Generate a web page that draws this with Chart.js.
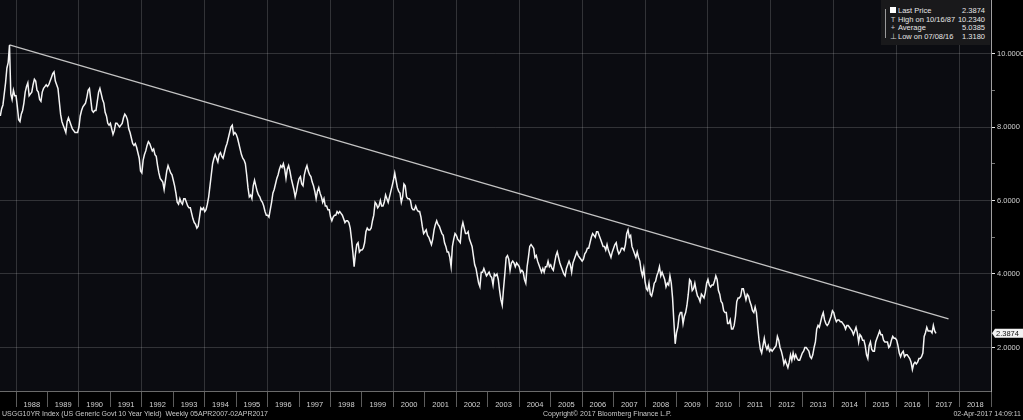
<!DOCTYPE html>
<html>
<head>
<meta charset="utf-8">
<title>USGG10YR Index</title>
<script src="https://cdn.jsdelivr.net/npm/chart.js@4.4.1/dist/chart.umd.min.js"></script>
<style>
  html, body { margin: 0; padding: 0; background: #000; }
  #wrap { position: relative; width: 1023px; height: 420px; overflow: hidden; background: #000;
          font-family: "Liberation Sans", Arial, sans-serif; }
  #chart { position: absolute; left: 0; top: 0; }
  .foot { position: absolute; top: 408px; font-size: 7px; line-height: 11px; color: #c9c9c9; white-space: nowrap; }
  #legend { position: absolute; left: 881px; top: 0; width: 109px; height: 45px; background: #19191b;
            color: #e6e6e6; font-size: 7.5px; }
  #legend .row { position: absolute; left: 0; right: 5px; height: 9px; line-height: 9px; }
  #legend .icon { position: absolute; left: 8px; width: 8px; text-align: center; color: #cfcfcf; }
  #legend .sq { display: inline-block; width: 6px; height: 6px; background: #fff; margin-top: 1px; }
  #legend .label { position: absolute; left: 17px; }
  #legend .value { position: absolute; right: 0; }
  #legend .bracket { position: absolute; left: 4px; top: 9px; width: 3px; height: 29px; border-left: 1px solid #9a9a9a; }
</style>
</head>
<body>
<div id="wrap">
  <canvas id="chart" width="1023" height="420"></canvas>
  <div id="legend"><div class="bracket"></div></div>
  <div class="foot" style="left:2px">USGG10YR Index (US Generic Govt 10 Year Yield)&nbsp; Weekly 05APR2007-02APR2017</div>
  <div class="foot" style="left:543px">Copyright© 2017 Bloomberg Finance L.P.</div>
  <div class="foot" style="right:2px">02-Apr-2017 14:09:11</div>
</div>
<script>
// semi-monthly readings (1st and 16th of each month), July 1987 -> 1 April 2017
const seriesStart = 1987.5;
const stepsPerYear = 24;
const yieldValues = [
  8.30, 8.50, 8.60, 8.90, 9.20, 9.60, 9.75, 10.23, 8.90, 8.75, 9.00, 8.85,
  8.85, 8.55, 8.20, 8.15, 8.35, 8.45, 8.65, 8.95, 9.10, 9.20, 8.85, 8.90, 8.95, 9.15, 9.30, 9.25, 9.00, 8.95, 8.75, 8.70, 8.95, 9.05, 9.10, 9.15,
  9.10, 9.15, 9.25, 9.35, 9.45, 9.50, 9.25, 9.15, 9.05, 8.70, 8.35, 8.15, 8.05, 7.95, 7.85, 8.15, 8.25, 8.15, 8.05, 7.95, 7.90, 7.85, 7.85, 7.85,
  8.00, 8.30, 8.45, 8.55, 8.60, 8.65, 8.80, 9.00, 9.05, 8.75, 8.45, 8.40, 8.45, 8.45, 8.70, 8.95, 9.05, 8.90, 8.75, 8.65, 8.40, 8.30, 8.10, 8.05,
  8.10, 7.95, 7.80, 7.90, 8.10, 8.10, 8.05, 8.00, 8.05, 8.10, 8.25, 8.35, 8.30, 8.20, 7.95, 7.85, 7.70, 7.55, 7.50, 7.55, 7.45, 7.30, 7.15, 6.80,
  6.75, 7.10, 7.25, 7.35, 7.50, 7.60, 7.55, 7.45, 7.35, 7.40, 7.25, 7.20, 6.95, 6.75, 6.60, 6.55, 6.50, 6.30, 6.55, 6.80, 6.95, 6.85, 6.75, 6.70,
  6.55, 6.40, 6.20, 5.95, 5.90, 6.05, 5.95, 5.90, 6.05, 6.05, 5.95, 5.85, 5.80, 5.80, 5.65, 5.50, 5.40, 5.35, 5.25, 5.30, 5.55, 5.80, 5.75, 5.80,
  5.70, 5.75, 5.90, 6.10, 6.40, 6.70, 7.00, 7.15, 7.25, 7.15, 7.05, 7.25, 7.30, 7.20, 7.15, 7.30, 7.45, 7.55, 7.70, 7.85, 8.00, 8.05, 7.80, 7.85,
  7.80, 7.70, 7.55, 7.40, 7.25, 7.15, 7.10, 7.00, 6.70, 6.35, 6.10, 6.15, 6.05, 6.40, 6.55, 6.40, 6.25, 6.15, 6.10, 6.00, 5.95, 5.85, 5.70, 5.60,
  5.60, 5.55, 5.75, 5.95, 6.20, 6.30, 6.45, 6.60, 6.70, 6.85, 6.95, 6.90, 7.00, 6.85, 6.60, 6.85, 6.95, 6.80, 6.60, 6.45, 6.30, 6.10, 6.25, 6.45,
  6.60, 6.65, 6.45, 6.40, 6.70, 6.85, 6.95, 6.80, 6.70, 6.65, 6.50, 6.40, 6.25, 6.05, 6.25, 6.35, 6.20, 6.10, 5.95, 6.05, 5.85, 5.85, 5.75, 5.75,
  5.55, 5.45, 5.55, 5.60, 5.60, 5.70, 5.65, 5.70, 5.65, 5.60, 5.50, 5.40, 5.45, 5.45, 5.40, 5.25, 4.95, 4.60, 4.20, 4.55, 4.80, 4.85, 4.60, 4.65,
  4.65, 4.70, 4.85, 5.15, 5.25, 5.20, 5.20, 5.25, 5.45, 5.60, 5.95, 5.90, 5.80, 5.85, 6.00, 5.85, 5.85, 5.95, 6.15, 6.05, 5.95, 6.10, 6.25, 6.40,
  6.55, 6.75, 6.55, 6.35, 6.25, 6.20, 5.95, 6.10, 6.45, 6.40, 6.10, 6.05, 6.05, 6.00, 5.80, 5.75, 5.75, 5.85, 5.75, 5.70, 5.70, 5.55, 5.30, 5.10,
  5.15, 5.20, 5.05, 5.00, 4.90, 4.80, 4.95, 5.20, 5.35, 5.45, 5.35, 5.30, 5.20, 5.10, 5.05, 4.85, 4.75, 4.60, 4.60, 4.45, 4.20, 4.75, 4.95, 5.10,
  5.05, 4.95, 4.90, 4.85, 5.25, 5.40, 5.25, 5.10, 5.10, 5.15, 4.95, 4.85, 4.75, 4.50, 4.25, 4.15, 3.95, 3.75, 3.65, 4.05, 4.05, 4.15, 4.05, 3.95,
  4.00, 4.05, 3.95, 3.90, 3.70, 4.00, 3.95, 4.00, 3.85, 3.55, 3.30, 3.15, 3.60, 4.00, 4.45, 4.50, 4.40, 4.10, 4.30, 4.35, 4.30, 4.20, 4.30, 4.25,
  4.20, 4.05, 4.10, 4.05, 3.85, 3.75, 4.20, 4.45, 4.75, 4.80, 4.75, 4.70, 4.45, 4.50, 4.35, 4.25, 4.15, 4.05, 4.15, 4.05, 4.20, 4.20, 4.35, 4.20,
  4.25, 4.15, 4.10, 4.30, 4.50, 4.60, 4.45, 4.30, 4.20, 4.10, 4.00, 3.95, 4.15, 4.25, 4.35, 4.25, 4.05, 4.30, 4.40, 4.50, 4.60, 4.50, 4.45, 4.40,
  4.35, 4.40, 4.55, 4.60, 4.70, 4.70, 4.85, 5.00, 5.10, 5.05, 5.00, 5.15, 5.15, 5.05, 4.95, 4.85, 4.75, 4.75, 4.65, 4.80, 4.65, 4.55, 4.45, 4.60,
  4.70, 4.80, 4.85, 4.65, 4.55, 4.60, 4.70, 4.70, 4.65, 4.80, 5.10, 5.20, 5.00, 5.05, 4.75, 4.65, 4.55, 4.45, 4.60, 4.45, 4.35, 4.10, 3.95, 4.15,
  3.80, 3.60, 3.55, 3.75, 3.45, 3.40, 3.55, 3.75, 3.80, 3.95, 4.05, 4.20, 3.95, 4.05, 3.95, 3.85, 3.65, 3.75, 3.70, 3.95, 3.75, 3.35, 2.70, 2.10,
  2.40, 2.55, 2.85, 2.95, 2.95, 2.65, 2.85, 2.95, 3.15, 3.45, 3.85, 3.80, 3.55, 3.60, 3.75, 3.55, 3.40, 3.35, 3.25, 3.45, 3.40, 3.35, 3.50, 3.75,
  3.85, 3.70, 3.65, 3.70, 3.70, 3.80, 3.95, 3.85, 3.55, 3.45, 3.25, 3.20, 3.00, 2.95, 2.95, 2.65, 2.65, 2.75, 2.50, 2.50, 2.60, 2.85, 3.25, 3.35,
  3.35, 3.40, 3.60, 3.60, 3.45, 3.30, 3.45, 3.40, 3.25, 3.15, 3.00, 2.95, 3.10, 2.95, 2.55, 2.20, 1.95, 1.85, 2.05, 2.25, 2.05, 1.95, 2.05, 1.90,
  1.95, 1.90, 1.95, 2.00, 2.05, 2.30, 2.20, 2.00, 1.90, 1.75, 1.55, 1.65, 1.55, 1.45, 1.60, 1.80, 1.65, 1.85, 1.70, 1.80, 1.70, 1.65, 1.65, 1.75,
  1.85, 1.90, 2.00, 2.00, 1.95, 1.90, 1.75, 1.70, 1.80, 2.00, 2.15, 2.50, 2.60, 2.55, 2.70, 2.85, 2.95, 2.75, 2.65, 2.60, 2.65, 2.75, 2.85, 3.00,
  2.95, 2.80, 2.70, 2.75, 2.75, 2.70, 2.70, 2.65, 2.60, 2.50, 2.60, 2.60, 2.55, 2.50, 2.45, 2.35, 2.45, 2.55, 2.40, 2.15, 2.35, 2.30, 2.20, 2.20,
  2.05, 1.80, 1.70, 2.05, 2.15, 1.95, 1.90, 1.90, 2.15, 2.25, 2.35, 2.45, 2.35, 2.35, 2.20, 2.15, 2.15, 2.15, 2.00, 2.05, 2.20, 2.30, 2.25, 2.25,
  2.20, 2.05, 1.85, 1.75, 1.85, 1.90, 1.75, 1.80, 1.80, 1.75, 1.70, 1.60, 1.40, 1.55, 1.60, 1.55, 1.60, 1.70, 1.70, 1.75, 1.85, 2.30, 2.40, 2.55,
  2.45, 2.45, 2.45, 2.40, 2.60, 2.45, 2.3874
];

// hand-drawn trend line from the Oct 1987 high
const trendYears = [1987.79, 2017.65];
const trendValues = [10.234, 2.78];

const lastPrice = 2.3874;
const legendIcons = ["sq", "T", "+", "⊥"];
const legendLabels = ["Last Price", "High on 10/16/87", "Average", "Low on 07/08/16"];
const legendValues = ["2.3874", "10.2340", "5.0385", "1.3180"];

const xMin = 1987.49, xMax = 2019.0;
const yMin = 0.816, yMax = 11.456;
const yearTicks = [];
for (let y = 1988; y <= 2019; y++) { yearTicks.push(y); if (y < 2019) yearTicks.push(y + 0.5); }
const yTicks = [2, 3, 4, 5, 6, 7, 8, 9, 10];

const FONT = "Liberation Sans";
const gridColor = "rgba(255,255,255,0.16)";

// legend box
const legend = document.getElementById("legend");
legendLabels.forEach((label, i) => {
  const row = document.createElement("div");
  row.className = "row";
  row.style.top = (6 + i * 8.7) + "px";
  const icon = legendIcons[i] === "sq" ? '<span class="sq"></span>' : legendIcons[i];
  row.innerHTML = `<span class="icon">${icon}</span><span class="label">${label}</span><span class="value">${legendValues[i]}</span>`;
  legend.appendChild(row);
});

const yieldPoints = yieldValues.map((v, i) => ({ x: seriesStart + i / stepsPerYear, y: v }));
const trendPoints = trendYears.map((x, i) => ({ x: x, y: trendValues[i] }));

const backdrop = {
  id: "backdrop",
  beforeDraw(chart) {
    const { ctx, chartArea: a } = chart;
    ctx.save();
    ctx.fillStyle = "#000";
    ctx.fillRect(0, 0, chart.width, chart.height);
    ctx.fillStyle = "#0b0c11";
    ctx.fillRect(a.left, a.top, a.width, a.height);
    ctx.restore();
  }
};

const lastPriceTag = {
  id: "lastPriceTag",
  afterDraw(chart) {
    const { ctx, chartArea: a } = chart;
    const y = chart.scales.y.getPixelForValue(lastPrice);
    const x = a.right + 3;
    ctx.save();
    ctx.fillStyle = "#f2f2f2";
    ctx.beginPath();
    ctx.moveTo(x - 2, y);
    ctx.lineTo(x + 1, y - 4.5);
    ctx.lineTo(x + 29, y - 4.5);
    ctx.lineTo(x + 29, y + 4.5);
    ctx.lineTo(x + 1, y + 4.5);
    ctx.closePath();
    ctx.fill();
    ctx.fillStyle = "#111";
    ctx.font = "7.5px " + FONT;
    ctx.textBaseline = "middle";
    ctx.fillText(lastPrice.toFixed(4), x + 2, y + 0.5);
    ctx.restore();
  }
};

new Chart(document.getElementById("chart"), {
  type: "line",
  data: {
    datasets: [
      { data: yieldPoints, borderColor: "#f4f4f4", borderWidth: 1.5, pointRadius: 0, tension: 0 },
      { data: trendPoints, borderColor: "#c4c4c4", borderWidth: 1.2, pointRadius: 0 }
    ]
  },
  options: {
    responsive: false,
    animation: false,
    layout: { padding: { left: 0, right: 0, top: 0, bottom: 12 } },
    plugins: { legend: { display: false }, tooltip: { enabled: false } },
    scales: {
      x: {
        type: "linear",
        min: xMin,
        max: xMax,
        afterBuildTicks: s => { s.ticks = yearTicks.map(v => ({ value: v })); },
        afterFit: s => { s.height = 17; s.paddingLeft = 0; s.paddingRight = 0; },
        grid: {
          color: c => (c.tick && Number.isInteger(c.tick.value) && c.tick.value % 2 === 0) ? gridColor : "transparent",
          tickColor: c => (c.tick && Number.isInteger(c.tick.value)) ? "#5c5c5c" : "transparent",
          tickLength: 16
        },
        border: { color: "#6a6a6a" },
        ticks: {
          autoSkip: false,
          maxRotation: 0,
          padding: -7,
          color: "#d2d2d2",
          font: { family: FONT, size: 7.5 },
          callback: v => Number.isInteger(v) ? "" : String(Math.floor(v))
        }
      },
      y: {
        position: "right",
        min: yMin,
        max: yMax,
        afterBuildTicks: s => { s.ticks = yTicks.map(v => ({ value: v })); },
        afterFit: s => { s.width = 32; s.paddingTop = 0; s.paddingBottom = 0; },
        grid: {
          color: c => (c.tick && c.tick.value % 2 === 0) ? gridColor : "transparent",
          tickColor: c => (c.tick && c.tick.value % 2 === 0) ? "#e8e8e8" : "#777",
          tickLength: 4
        },
        border: { color: "#a0a0a0" },
        ticks: {
          padding: 2,
          color: "#d2d2d2",
          font: { family: FONT, size: 7.5 },
          callback: v => v % 2 === 0 ? v.toFixed(4) : ""
        }
      }
    }
  },
  plugins: [backdrop, lastPriceTag]
});
</script>
</body>
</html>
